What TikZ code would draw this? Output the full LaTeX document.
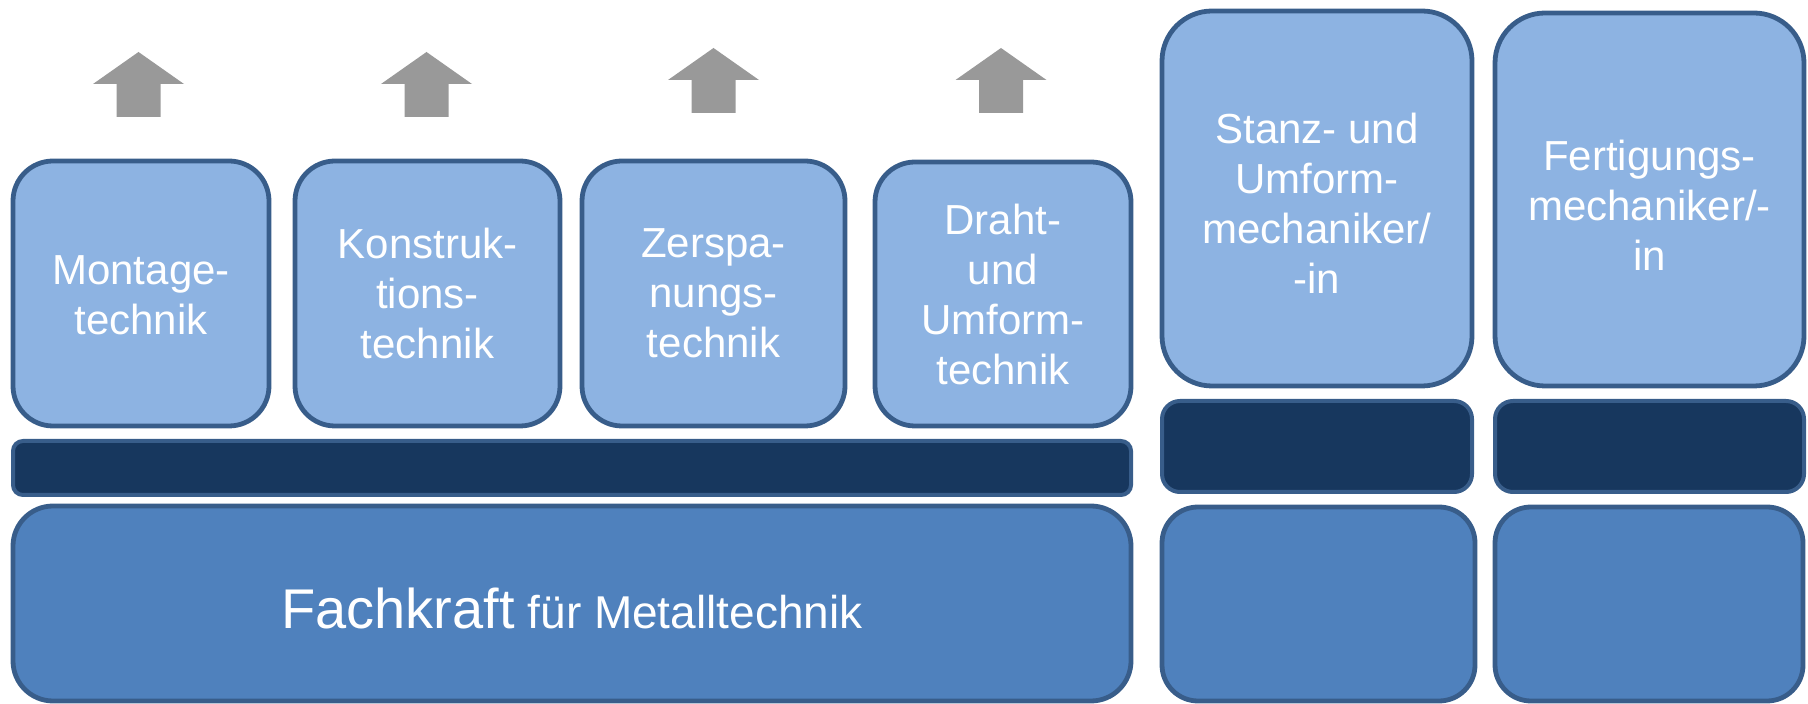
\documentclass[tikz,border=0pt]{standalone}
\usepackage{fontspec}
\setmainfont{Liberation Sans}
\definecolor{lightfill}{HTML}{8DB3E2}
\definecolor{midfill}{HTML}{4F81BD}
\definecolor{darkfill}{HTML}{17375E}
\definecolor{edgeblue}{HTML}{385D8A}
\definecolor{arrowgray}{HTML}{999999}
\tikzset{
  upbox/.style={draw=edgeblue, line width=2.4pt, fill=lightfill, rounded corners=20pt,
    text=white, align=center, inner sep=0pt,
    font=\fontsize{21pt}{25pt}\selectfont},
  tallbox/.style={upbox, rounded corners=25pt},
  txt/.style={text=white, align=center, inner sep=0pt, font=\fontsize{21pt}{25pt}\selectfont},
  barbox/.style={draw=edgeblue, line width=2pt, fill=darkfill, rounded corners=9pt, inner sep=0pt},
  basebox/.style={draw=edgeblue, line width=2.4pt, fill=midfill, rounded corners=18pt,
    text=white, align=center, inner sep=0pt},
  blockarrow/.style={fill=arrowgray}
}
\newcommand{\uparrowshape}[4]{% name, x, tip y, bottom y
  \coordinate (#1) at (#2,#3);
  \fill[blockarrow] (#1) -- ++(45.5,32) -- ++(-23.5,0) -- ++(0,#4-#3-32) -- ++(-44,0)
    -- ++(0,-#4+#3+32) -- ++(-23.5,0) -- cycle;
}
\begin{document}
\begin{tikzpicture}[x=0.5pt,y=-0.5pt]
\useasboundingbox (0,0) rectangle (1808,704);
% upward arrows
\uparrowshape{a1}{138.5}{52}{117}
\uparrowshape{a2}{426.5}{52}{117}
\uparrowshape{a3}{713.5}{48}{113}
\uparrowshape{a4}{1001}{48}{113}
% left group
\node[upbox, minimum width=128pt, minimum height=132.5pt] (montage) at (141,293.5) {};
\node[txt, yshift=-1pt] (montagetext) at (montage) {Montage-\\technik};
\node[upbox, minimum width=132.5pt, minimum height=132.5pt] (konstruk) at (427.5,293.5) {Konstruk-\\tions-\\technik};
\node[upbox, minimum width=131.5pt, minimum height=132.5pt] (zerspa) at (713.5,293.5) {Zerspa-\\nungs-\\technik};
\node[upbox, minimum width=128pt, minimum height=132pt] (draht) at (1003,294) {Draht-\\und\\Umform-\\technik};
\node[barbox, rounded corners=5pt, minimum width=559pt, minimum height=27pt] (leftbar) at (572,468) {};
\node[basebox, rounded corners=20pt, minimum width=559pt, minimum height=97.5pt] (fachkraft) at (572,603.5) {};
\node[txt, yshift=-2.3pt] (fachkrafttext) at (fachkraft)
  {{\fontsize{28pt}{32pt}\selectfont Fachkraft}{\fontsize{23pt}{27pt}\selectfont\ für Metalltechnik}};
% right group
\node[tallbox, minimum width=155pt, minimum height=187.5pt] (stanz) at (1317,198.5) {};
\node[txt, yshift=-2.3pt] (stanztext) at (stanz) {Stanz- und\\Umform-\\mechaniker/\\-in};
\node[tallbox, minimum width=154.5pt, minimum height=186.5pt] (fertig) at (1649.5,199.5) {};
\node[txt, yshift=-2.9pt] (fertigtext) at (fertig) {Fertigungs-\\mechaniker/-\\in};
\node[barbox, minimum width=155pt, minimum height=45.5pt] (stanzbar) at (1317,446.5) {};
\node[barbox, minimum width=154.5pt, minimum height=45.5pt] (fertigbar) at (1649.5,446.5) {};
\node[basebox, minimum width=156.5pt, minimum height=97pt] (stanzbase) at (1318.5,604) {};
\node[basebox, minimum width=154pt, minimum height=97pt] (fertigbase) at (1649,604) {};
\end{tikzpicture}
\end{document}
